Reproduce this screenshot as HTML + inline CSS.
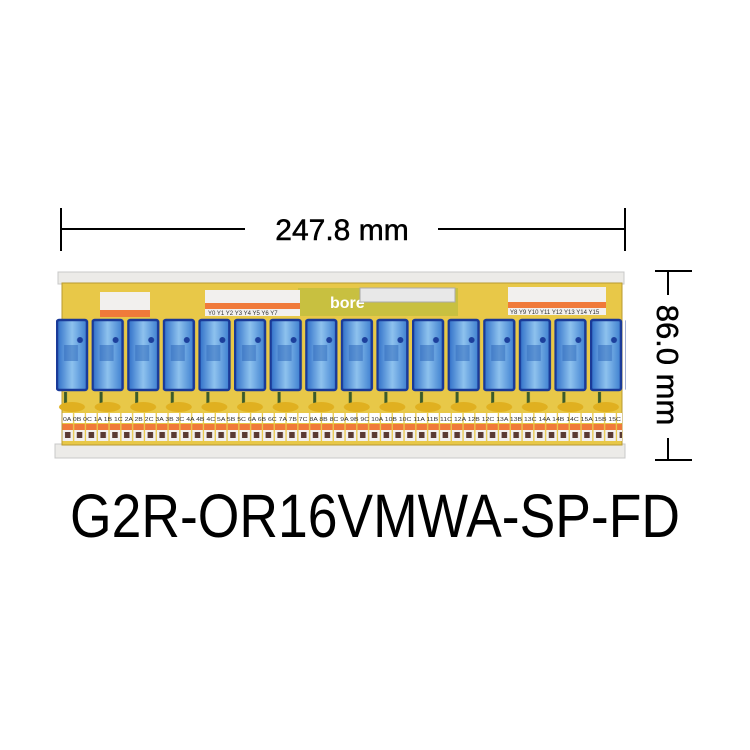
<!DOCTYPE html>
<html><head><meta charset="utf-8"><style>
html,body{margin:0;padding:0;background:#fff;width:750px;height:750px;overflow:hidden}
svg{display:block}
</style></head><body>
<svg width="750" height="750" viewBox="0 0 750 750" xmlns="http://www.w3.org/2000/svg" font-family="Liberation Sans, sans-serif">
<defs>
<linearGradient id="rel" x1="0" y1="0" x2="1" y2="0">
<stop offset="0" stop-color="#2f6fc8"/><stop offset="0.5" stop-color="#8ec2ee"/><stop offset="1" stop-color="#3d7fd0"/>
</linearGradient>
<pattern id="relays" x="56" y="0" width="35.6" height="750" patternUnits="userSpaceOnUse">
<rect x="1" y="320" width="30" height="70" rx="2" fill="url(#rel)" stroke="#1a3a98" stroke-width="2.5"/>
<rect x="8" y="345" width="14" height="16" fill="#2a63b8" opacity="0.5"/>
<circle cx="24" cy="340" r="3" fill="#1c3f9c"/>
<rect x="8" y="392" width="3" height="18" fill="#3a5a2a"/>
<ellipse cx="16" cy="407" rx="13" ry="5" fill="#e0b020"/>
</pattern>
<pattern id="term" x="62" y="0" width="11.8" height="750" patternUnits="userSpaceOnUse">
<rect x="0.5" y="413" width="10.5" height="10" fill="#fff"/>
<rect x="0.5" y="424" width="10.5" height="6" fill="#f07a3a"/>
<rect x="0.5" y="430" width="10.5" height="11" fill="#f2f0ee"/>
<rect x="3" y="432" width="5.5" height="6" fill="#5a3a32"/>
</pattern>
</defs>

<line x1="61" y1="208" x2="61" y2="251" stroke="#000" stroke-width="2"/>
<line x1="625" y1="208" x2="625" y2="251" stroke="#000" stroke-width="2"/>
<line x1="61" y1="229" x2="245" y2="229" stroke="#000" stroke-width="2"/>
<line x1="438" y1="229" x2="625" y2="229" stroke="#000" stroke-width="2"/>
<text x="342" y="240" font-size="30" text-anchor="middle" fill="#000" stroke="#000" stroke-width="0.5">247.8 mm</text>

<line x1="655" y1="271" x2="692" y2="271" stroke="#000" stroke-width="2"/>
<line x1="655" y1="460" x2="692" y2="460" stroke="#000" stroke-width="2"/>
<line x1="668" y1="271" x2="668" y2="295" stroke="#000" stroke-width="2"/>
<line x1="668" y1="438" x2="668" y2="460" stroke="#000" stroke-width="2"/>
<text x="0" y="0" font-size="31" text-anchor="middle" fill="#000" stroke="#000" stroke-width="0.5" transform="translate(667,365) rotate(90)" dy="10">86.0 mm</text>

<rect x="58" y="272" width="566" height="12" fill="#ecebe8" stroke="#c8c8c8"/>
<rect x="55" y="444" width="570" height="14" fill="#ecebe8" stroke="#c8c8c8"/>
<rect x="62" y="283" width="560" height="162" fill="#e8c848"/>
<rect x="62" y="283" width="560" height="162" fill="none" stroke="#b89a30"/>
<rect x="298" y="288" width="160" height="28" fill="#c8c040"/>
<text x="330" y="308" font-size="16" fill="#fff" font-weight="bold">bore</text>
<rect x="360" y="288" width="95" height="14" fill="#e8e8e8" stroke="#aaa"/>
<rect x="100" y="292" width="50" height="25" fill="#f2f0ee"/>
<rect x="100" y="310" width="50" height="7" fill="#f07a3a"/>
<rect x="205" y="290" width="95" height="26" fill="#f2f0ee"/>
<rect x="205" y="303" width="95" height="6" fill="#f07a3a"/>
<rect x="508" y="287" width="98" height="28" fill="#f2f0ee"/>
<rect x="508" y="302" width="98" height="6" fill="#f07a3a"/>
<g font-size="6" fill="#333">
<text x="208" y="315">Y0 Y1 Y2 Y3 Y4 Y5 Y6 Y7</text>
<text x="510" y="314">Y8 Y9 Y10 Y11 Y12 Y13 Y14 Y15</text>
</g>
<rect x="62" y="410" width="560" height="33" fill="url(#term)"/>
<text x="63" y="421" font-size="5.5" fill="#333" textLength="558" lengthAdjust="spacingAndGlyphs">0A 0B 0C 1A 1B 1C 2A 2B 2C 3A 3B 3C 4A 4B 4C 5A 5B 5C 6A 6B 6C 7A 7B 7C 8A 8B 8C 9A 9B 9C 10A 10B 10C 11A 11B 11C 12A 12B 12C 13A 13B 13C 14A 14B 14C 15A 15B 15C</text>
<rect x="56" y="318" width="570" height="95" fill="url(#relays)"/>

<text x="375" y="537" font-size="61" text-anchor="middle" fill="#000" textLength="610" lengthAdjust="spacingAndGlyphs">G2R-OR16VMWA-SP-FD</text>
</svg>
</body></html>
